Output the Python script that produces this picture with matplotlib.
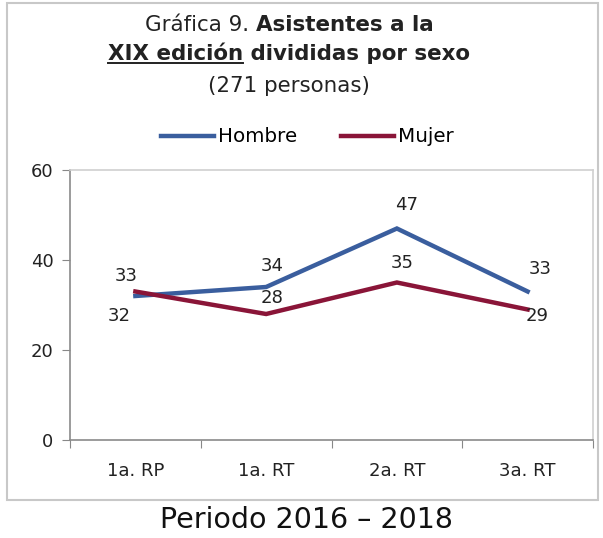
import matplotlib
matplotlib.use("Agg")
import matplotlib.pyplot as plt
from matplotlib.patches import Rectangle
from matplotlib.lines import Line2D
import numpy as np

categories = ["1a. RP", "1a. RT", "2a. RT", "3a. RT"]
hombre = [32, 34, 47, 33]
mujer = [33, 28, 35, 29]

# label offsets (points) per point: (dx, dy)
hombre_offsets = [(-12, -14.5), (4.5, 15), (7, 17), (9, 16)]
mujer_offsets = [(-6.5, 11), (4.5, 11.5), (3.5, 14), (6.5, -5)]

blue = "#3A5E9E"
red = "#8A1538"
FONT = "DejaVu Sans"
plt.rcParams["font.family"] = FONT

fig = plt.figure(figsize=(6.03, 5.38), dpi=100)
W, H = 603, 538

# outer frame
fig.patches.append(Rectangle((7 / W, 1 - 500 / H), 591 / W, 497 / H,
                             transform=fig.transFigure, fill=False,
                             edgecolor="#c8c8c8", lw=1.5))

ax = fig.add_axes([70 / W, 1 - 440 / H, 523 / W, 270 / H])
x = np.arange(len(categories)) + 0.5
ax.plot(x, hombre, color=blue, lw=3.2, solid_joinstyle="miter")
ax.plot(x, mujer, color=red, lw=3.2, solid_joinstyle="miter")

for xi, v, (dx, dy) in zip(x, hombre, hombre_offsets):
    ax.annotate(str(v), (xi, v), xytext=(dx, dy), textcoords="offset points",
                ha="center", va="center", fontsize=13, color="#222222")
for xi, v, (dx, dy) in zip(x, mujer, mujer_offsets):
    ax.annotate(str(v), (xi, v), xytext=(dx, dy), textcoords="offset points",
                ha="center", va="center", fontsize=13, color="#222222")

ax.set_xlim(0, 4)
ax.set_ylim(0, 60)
ax.set_yticks([0, 20, 40, 60])
ax.set_xticks([0, 1, 2, 3, 4])
ax.set_xticklabels([])
ax.set_xticks(x, minor=True)
ax.set_xticklabels(categories, minor=True)
ax.tick_params(axis="x", which="minor", length=0, pad=16, labelsize=13, labelcolor="#222222")
ax.tick_params(axis="x", which="major", length=6, color="#888888")
ax.tick_params(axis="y", length=6, color="#888888", labelsize=13, labelcolor="#222222", pad=6)
for s in ["left", "bottom"]:
    ax.spines[s].set_color("#8a8a8a")
    ax.spines[s].set_linewidth(1.2)
for s in ["top", "right"]:
    ax.spines[s].set_color("#d0d0d0")
    ax.spines[s].set_linewidth(1.2)

# title
fig.canvas.draw()
r = fig.canvas.get_renderer()


def centered_line(pieces, y, size, cx=289):
    texts = []
    for s, w in pieces:
        t = fig.text(0, y, s, fontsize=size, fontweight=w, ha="left", va="center", color="#222222")
        texts.append(t)
    widths = [t.get_window_extent(r).width for t in texts]
    total = sum(widths)
    xs = cx - total / 2
    for t, w in zip(texts, widths):
        t.set_x(xs / W)
        xs += w
    return texts


centered_line([("Gráfica 9. ", "normal"), ("Asistentes a la", "bold")], 1 - 25 / H, 15.4)
l2 = centered_line([("XIX edición", "bold"), (" divididas por sexo", "bold")], 1 - 54 / H, 15.4)
centered_line([("(271 personas)", "normal")], 1 - 86 / H, 15.4)
bb = l2[0].get_window_extent(r)
fig.add_artist(Line2D([bb.x0 / W, bb.x1 / W], [(bb.y0 + 1) / H] * 2,
                      transform=fig.transFigure, color="#222222", lw=1.4))

# legend
handles = [Line2D([], [], color=blue, lw=3.2), Line2D([], [], color=red, lw=3.2)]
fig.legend(handles, ["Hombre", "Mujer"], loc="center", bbox_to_anchor=(307 / W, 1 - 137 / H),
           ncol=2, frameon=False, fontsize=14.3, handlelength=2.67, handletextpad=0.2,
           columnspacing=2.2)

fig.text(306 / W, 1 - 520 / H, "Periodo 2016 – 2018", ha="center", va="center", fontsize=20.5, color="#111111")

fig.savefig("out.png", dpi=100)
